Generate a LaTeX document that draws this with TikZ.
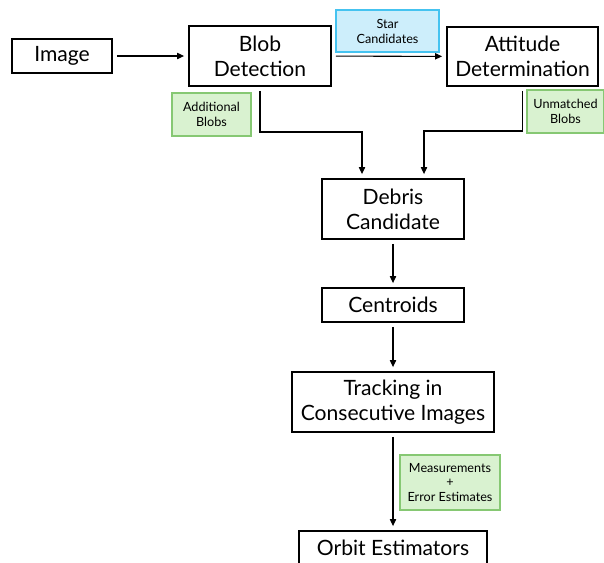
\documentclass[tikz,border=0pt]{standalone}
\usepackage{fontspec}
\setmainfont{Lato}
\usetikzlibrary{arrows.meta}
\definecolor{starfill}{HTML}{CDEEFB}
\definecolor{starline}{HTML}{45C3F0}
\definecolor{blobfill}{HTML}{D9F2D0}
\definecolor{blobline}{HTML}{86C873}

\begin{document}
\begin{tikzpicture}[x=0.02cm,y=-0.02cm,
  size/.style 2 args={minimum width=#1*0.02cm,minimum height=#2*0.02cm},
  stage/.style={draw,line width=1.2pt,align=center,inner sep=0pt,outer sep=2.8pt,
    font=\fontsize{12}{14.2}\selectfont},
  tag/.style={draw=#1line,fill=#1fill,line width=0.6pt,align=center,inner sep=0pt,
    font=\fontsize{7.2}{8.5}\selectfont},
  flow/.style={line width=0.6pt,-{Triangle[length=4pt,width=3.6pt]}}]
  \clip (0,0) rectangle (604,562);
  % main stages
  \node[stage,size={100}{34}] (img) at (62,56) {Image};
  \node[stage,size={142}{60}] (blob) at (260,56) {Blob\\Detection};
  \node[stage,size={151}{59}] (att) at (522.5,56.5) {Attitude\\Determination};
  \node[stage,size={142}{60}] (deb) at (393,209) {Debris\\Candidate};
  \node[stage,size={142}{34}] (cen) at (393,305) {Centroids};
  \node[stage,size={202}{60}] (trk) at (393,402) {Tracking in\\Consecutive Images};
  \node[stage,size={188}{34}] (orb) at (393,548) {Orbit Estimators};
  % data tags
  \node[tag=star,size={103}{42}] (star) at (387.5,31) {Star\\Candidates};
  \node[tag=blob,size={79}{43}] (addb) at (211.5,114.5) {Additional\\Blobs};
  \node[tag=blob,size={77}{43}] (unm) at (565.5,111.5) {Unmatched\\Blobs};
  \node[tag=blob,size={100}{55}] (meas) at (450,482.5) {Measurements\\+\\Error Estimates};
  % connectors
  \coordinate (b1) at (362,132);
  \coordinate (a1) at (424,131);
  \draw[flow] (img) -- (blob);
  \draw[flow] (blob) -- (att);
  \draw[flow] (blob.south) |- (b1) -- (b1 |- deb.north);
  \draw[flow] (att.south) |- (a1) -- (a1 |- deb.north);
  \draw[flow] (deb) -- (cen);
  \draw[flow] (cen) -- (trk);
  \draw[flow] (trk) -- (orb);
\end{tikzpicture}
\end{document}
